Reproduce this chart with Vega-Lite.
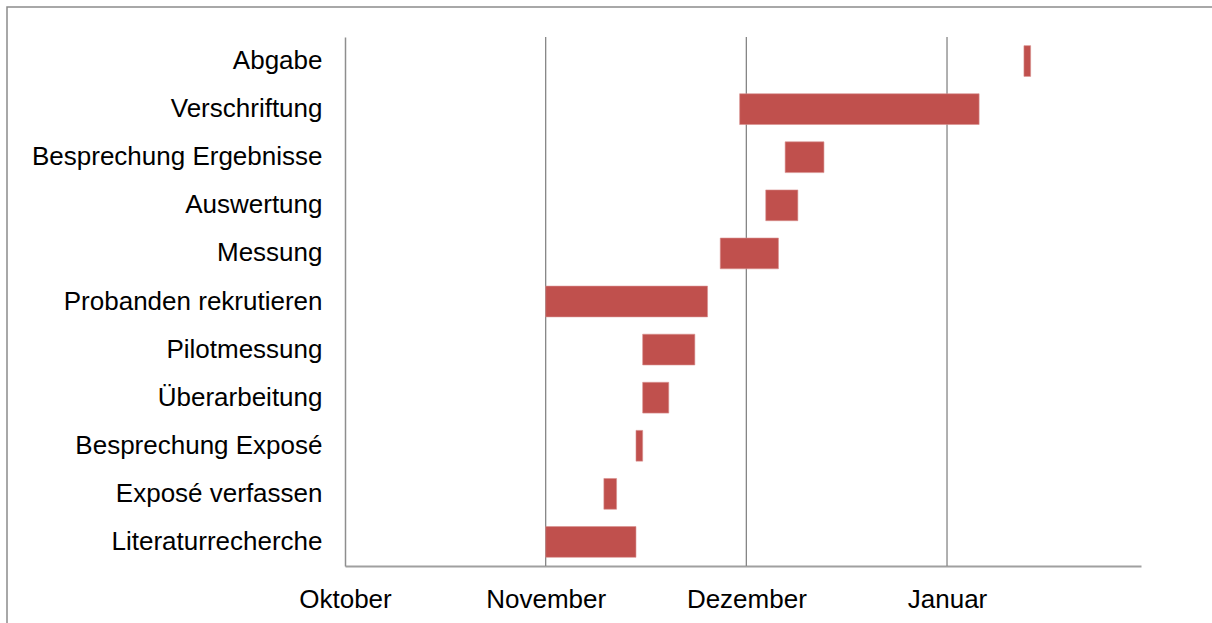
{
  "$schema": "https://vega.github.io/schema/vega-lite/v6.json",
  "width": 1210,
  "height": 621,
  "autosize": {"type": "none"},
  "padding": {"left": 7, "top": 7, "right": 0, "bottom": 0},
  "background": "white",
  "config": {
    "view": {"stroke": "#8C8C8C", "strokeWidth": 1.5},
    "font": "Liberation Sans"
  },
  "encoding": {
    "x": {
      "field": "start",
      "type": "quantitative",
      "scale": {"domain": [0, 119], "range": [338, 1134], "nice": false, "zero": false},
      "axis": {
        "title": null,
        "values": [0, 30, 60, 90],
        "labelExpr": "datum.value == 0 ? 'Oktober' : datum.value == 30 ? 'November' : datum.value == 60 ? 'Dezember' : 'Januar'",
        "ticks": false,
        "grid": false,
        "offset": -62,
        "domainColor": "#A0A0A0",
        "domainWidth": 2,
        "labelFont": "Liberation Sans",
        "labelFontSize": 26,
        "labelColor": "#000000",
        "labelPadding": 20,
        "labelFlush": false
      }
    }
  },
  "layer": [
    {
      "data": {"values": [{"start": 30}, {"start": 60}, {"start": 90}]},
      "mark": {"type": "rule", "color": "#868686", "strokeWidth": 1.3},
      "encoding": {
        "y": {"datum": 0, "type": "quantitative", "scale": {"domain": [0, 1], "range": [30, 559]}, "axis": null},
        "y2": {"datum": 1}
      }
    },
    {
      "data": {
        "values": [
          {"task": "Abgabe", "start": 101.5, "end": 102.5},
          {"task": "Verschriftung", "start": 59.0, "end": 94.8},
          {"task": "Besprechung Ergebnisse", "start": 65.8, "end": 71.6},
          {"task": "Auswertung", "start": 62.9, "end": 67.7},
          {"task": "Messung", "start": 56.1, "end": 64.8},
          {"task": "Probanden rekrutieren", "start": 30.0, "end": 54.2},
          {"task": "Pilotmessung", "start": 44.5, "end": 52.3},
          {"task": "Überarbeitung", "start": 44.5, "end": 48.4},
          {"task": "Besprechung Exposé", "start": 43.5, "end": 44.5},
          {"task": "Exposé verfassen", "start": 38.7, "end": 40.6},
          {"task": "Literaturrecherche", "start": 30.0, "end": 43.5}
        ]
      },
      "mark": {"type": "bar", "color": "#C0504D", "stroke": "#D8908E", "strokeWidth": 0.6},
      "encoding": {
        "y": {
          "field": "task",
          "type": "nominal",
          "sort": null,
          "scale": {"range": [30, 559], "paddingInner": 0.36, "paddingOuter": 0.18},
          "axis": {
            "title": null,
            "ticks": false,
            "grid": false,
            "offset": -338,
            "domainColor": "#8E8E8E",
            "domainWidth": 1.5,
            "labelFont": "Liberation Sans",
            "labelFontSize": 26,
            "labelColor": "#000000",
            "labelPadding": 23,
            "labelLimit": 400
          }
        },
        "x2": {"field": "end"}
      }
    }
  ],
  "resolve": {"scale": {"y": "independent"}, "axis": {"y": "independent"}}
}
